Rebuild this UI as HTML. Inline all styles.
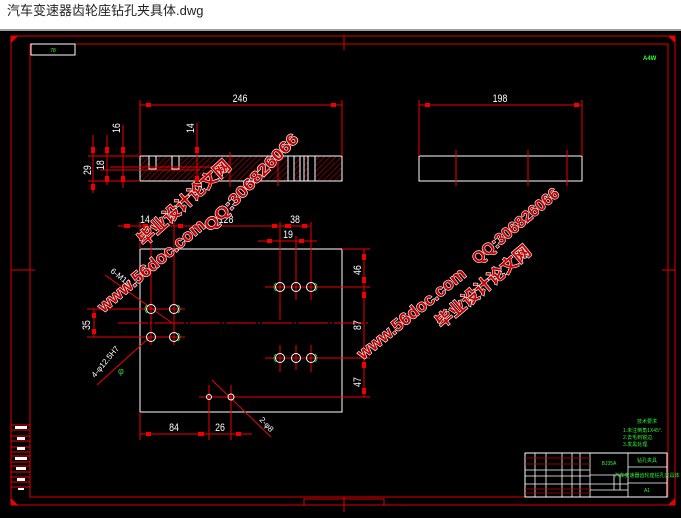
<!DOCTYPE html>
<html><head><meta charset="utf-8"><style>
html,body{margin:0;padding:0;background:#000;}
.t{position:absolute;left:0;top:0;width:681px;height:31px;background:#fff;border-bottom:2px solid #a0a0a0;font-family:"Liberation Sans","Noto Sans CJK SC",sans-serif;font-size:13px;line-height:22px;padding-left:7px;box-sizing:border-box;color:#222}
svg{position:absolute;left:0;top:0}
</style></head><body>
<div class="t">汽车变速器齿轮座钻孔夹具体.dwg</div>
<svg width="681" height="518" viewBox="0 0 681 518" font-family="Liberation Sans, Noto Sans CJK SC, sans-serif">
<rect x="0" y="33" width="681" height="485" fill="#000"/>
<defs><pattern id="h" width="4" height="4" patternUnits="userSpaceOnUse" patternTransform="rotate(45)"><line x1="0" y1="0" x2="0" y2="4" stroke="#b00" stroke-width="1.2"/></pattern></defs>
<g fill="none" stroke="#e00000" stroke-width="1">
<rect x="11" y="36" width="664" height="469"/>
<rect x="30" y="44" width="638" height="453"/>
<line x1="344" y1="36" x2="344" y2="50"/>
<line x1="344" y1="497" x2="344" y2="512"/>
<line x1="11" y1="270" x2="35" y2="270"/><line x1="662" y1="270" x2="675" y2="270"/>
<rect x="304" y="499" width="80" height="6"/>
</g>
<path d="M11 36 L18 36 L11 43Z M675 36 L668 36 L675 43Z M11 505 L18 505 L11 498Z M675 505 L668 505 L675 498Z" fill="#e00"/>
<rect x="31" y="44" width="44" height="11" fill="none" stroke="#fff"/>
<text x="53" y="52" font-size="5" fill="#3f3" text-anchor="middle">78</text>
<text x="643" y="60" font-size="6" fill="#3f3" font-weight="bold">A4W</text>
<g stroke="#e00" fill="none"><line x1="11" y1="425" x2="30" y2="425"/><line x1="11" y1="430" x2="30" y2="430"/><line x1="11" y1="436" x2="30" y2="436"/><line x1="11" y1="441" x2="30" y2="441"/><line x1="11" y1="447" x2="30" y2="447"/><line x1="11" y1="452" x2="30" y2="452"/><line x1="11" y1="456" x2="30" y2="456"/><line x1="11" y1="462" x2="30" y2="462"/><line x1="11" y1="466" x2="30" y2="466"/><line x1="11" y1="472" x2="30" y2="472"/><line x1="11" y1="477" x2="30" y2="477"/><line x1="11" y1="482" x2="30" y2="482"/><line x1="11" y1="487" x2="30" y2="487"/></g>
<g fill="#fff"><rect x="15" y="426" width="12" height="3"/><rect x="17" y="437" width="8" height="3"/><rect x="17" y="447" width="8" height="3"/><rect x="15" y="457" width="12" height="3"/><rect x="16" y="467" width="10" height="3"/><rect x="17" y="478" width="8" height="3"/><rect x="18" y="488" width="6" height="2"/></g>
<rect x="140" y="156" width="202" height="25" fill="url(#h)" stroke="#fff"/>
<g stroke="#fff" fill="#000"><rect x="149" y="156" width="7" height="13"/><rect x="172" y="156" width="7" height="13"/><rect x="288" y="156" width="6" height="25"/><rect x="300" y="156" width="4" height="25"/><rect x="308" y="156" width="7" height="25"/></g>
<rect x="419" y="156" width="163" height="25" fill="none" stroke="#fff"/>
<g stroke="#e00" fill="none">
<line x1="140" y1="100" x2="140" y2="156"/><line x1="342" y1="100" x2="342" y2="156"/><line x1="140" y1="105" x2="342" y2="105"/>
<line x1="419" y1="100" x2="419" y2="156"/><line x1="582" y1="100" x2="582" y2="156"/><line x1="419" y1="105" x2="582" y2="105"/>
<line x1="456" y1="150" x2="456" y2="186"/><line x1="528" y1="150" x2="528" y2="186"/><line x1="567" y1="150" x2="567" y2="186"/>
<line x1="93" y1="135" x2="93" y2="193"/><line x1="107" y1="135" x2="107" y2="185"/><line x1="123" y1="125" x2="123" y2="188"/><line x1="197" y1="123" x2="197" y2="185"/>
<line x1="88" y1="156" x2="140" y2="156"/><line x1="88" y1="181" x2="140" y2="181"/><line x1="100" y1="170" x2="200" y2="170"/><line x1="110" y1="167" x2="230" y2="167"/>
<line x1="230" y1="152" x2="230" y2="187"/><line x1="278" y1="150" x2="278" y2="186"/>
</g>
<g fill="#e00"><rect x="146" y="103" width="5" height="4"/><rect x="331" y="103" width="5" height="4"/><rect x="425" y="103" width="5" height="4"/><rect x="574" y="103" width="5" height="4"/>
<rect x="91" y="147" width="4" height="6"/><rect x="91" y="184" width="4" height="6"/><rect x="105" y="147" width="4" height="6"/><rect x="105" y="176" width="4" height="6"/><rect x="121" y="147" width="4" height="6"/><rect x="121" y="176" width="4" height="6"/><rect x="195" y="147" width="4" height="6"/><rect x="195" y="176" width="4" height="6"/></g>
<g fill="#fff" font-size="11"><text transform="translate(240,102) scale(0.8,1)" text-anchor="middle">246</text><text transform="translate(500,102) scale(0.8,1)" text-anchor="middle">198</text>
<text transform="translate(120,133) rotate(-90) scale(0.8,1)">16</text><text transform="translate(194,133) rotate(-90) scale(0.8,1)">14</text>
<text transform="translate(91,175) rotate(-90) scale(0.8,1)">29</text><text transform="translate(104,170) rotate(-90) scale(0.8,1)">18</text></g>
<rect x="140" y="249" width="202" height="163" fill="none" stroke="#fff"/>
<g stroke="#e00" fill="none">
<line x1="118" y1="226" x2="310" y2="226"/><line x1="258" y1="241" x2="317" y2="241"/>
<line x1="140" y1="222" x2="140" y2="249"/><line x1="151" y1="222" x2="151" y2="345"/><line x1="174" y1="222" x2="174" y2="345"/>
<line x1="280" y1="222" x2="280" y2="320"/><line x1="296" y1="236" x2="296" y2="300"/><line x1="311" y1="222" x2="311" y2="300"/>
<line x1="280" y1="345" x2="280" y2="372"/><line x1="296" y1="345" x2="296" y2="370"/><line x1="311" y1="345" x2="311" y2="372"/>
<line x1="265" y1="287" x2="370" y2="287"/><line x1="265" y1="358" x2="370" y2="358"/><line x1="118" y1="323" x2="370" y2="323" stroke-dasharray="30 2 2 2"/>
<line x1="87" y1="309" x2="185" y2="309"/><line x1="87" y1="337" x2="185" y2="337"/><line x1="94" y1="309" x2="94" y2="337"/>
<line x1="342" y1="249" x2="370" y2="249"/><line x1="199" y1="397" x2="370" y2="397"/><line x1="364" y1="249" x2="364" y2="397"/>
<line x1="140" y1="412" x2="140" y2="440"/><line x1="209" y1="385" x2="209" y2="440"/><line x1="231" y1="385" x2="231" y2="440"/><line x1="140" y1="434" x2="252" y2="434"/>
<line x1="105" y1="275" x2="172" y2="323"/><line x1="97" y1="385" x2="150" y2="337"/><line x1="212" y1="380" x2="271" y2="437"/>
</g>
<g fill="#e00"><rect x="124" y="224" width="6" height="4"/><rect x="143" y="224" width="5" height="4"/><rect x="178" y="224" width="5" height="4"/><rect x="272" y="224" width="5" height="4"/><rect x="285" y="224" width="6" height="4"/><rect x="302" y="224" width="5" height="4"/><rect x="267" y="239" width="5" height="4"/><rect x="299" y="239" width="5" height="4"/>
<rect x="362" y="254" width="4" height="6"/><rect x="362" y="277" width="4" height="6"/><rect x="362" y="292" width="4" height="6"/><rect x="362" y="350" width="4" height="6"/><rect x="362" y="362" width="4" height="6"/><rect x="362" y="388" width="4" height="6"/>
<rect x="92" y="313" width="4" height="5"/><rect x="92" y="329" width="4" height="5"/><rect x="146" y="432" width="5" height="4"/><rect x="198" y="432" width="6" height="4"/><rect x="236" y="432" width="5" height="4"/></g>
<g fill="none" stroke="#fff" stroke-width="1">
<circle cx="151" cy="309" r="4.5"/><circle cx="174" cy="309" r="4.5"/><circle cx="151" cy="337" r="4.5"/><circle cx="174" cy="337" r="4.5"/>
<circle cx="280" cy="287" r="4.5"/><circle cx="296" cy="287" r="4.5"/><circle cx="311" cy="287" r="4.5"/>
<circle cx="280" cy="358" r="4.5"/><circle cx="296" cy="358" r="4.5"/><circle cx="311" cy="358" r="4.5"/>
<circle cx="209" cy="397" r="2.5"/><circle cx="231" cy="397" r="3"/></g>
<g fill="none" stroke="#3c3" stroke-width="0.8"><path d="M147 305 a5 5 0 0 0 0 8"/><path d="M178 305 a5 5 0 0 1 0 8"/><path d="M276 283 a5 5 0 0 0 0 8"/><path d="M315 283 a5 5 0 0 1 0 8"/><path d="M276 354 a5 5 0 0 0 0 8"/><path d="M315 354 a5 5 0 0 1 0 8"/><path d="M178 333 a5 5 0 0 1 0 8"/></g>
<g fill="#fff" font-size="11"><text transform="translate(145,223) scale(0.8,1)" text-anchor="middle">14</text><text transform="translate(226,223) scale(0.8,1)" text-anchor="middle">128</text><text transform="translate(295,223) scale(0.8,1)" text-anchor="middle">38</text><text transform="translate(288,238) scale(0.8,1)" text-anchor="middle">19</text>
<text transform="translate(90,330) rotate(-90) scale(0.8,1)">35</text><text transform="translate(361,275) rotate(-90) scale(0.8,1)">46</text><text transform="translate(361,330) rotate(-90) scale(0.8,1)">87</text><text transform="translate(361,387) rotate(-90) scale(0.8,1)">47</text>
<text transform="translate(174,431) scale(0.8,1)" text-anchor="middle">84</text><text transform="translate(220,431) scale(0.8,1)" text-anchor="middle">26</text>
<text transform="translate(110,272) rotate(38)" font-size="8">6-M12</text><text transform="translate(95,378) rotate(-50)" font-size="8">4-φ12.5H7</text><text transform="translate(259,420) rotate(48)" font-size="8">2-φ8</text></g>
<text x="118" y="374" font-size="9" fill="#3c3">φ</text>
<g fill="#3e3" font-size="5"><text x="637" y="423">技术要求</text><text x="623" y="432">1.未注倒角1X45°.</text><text x="623" y="439">2.去毛刺锐边.</text><text x="623" y="446">3.发黑处理.</text></g>
<rect x="525" y="453" width="142" height="44" fill="none" stroke="#fff"/>
<g stroke="#fff" fill="none" stroke-width="0.8"><line x1="590" y1="453" x2="590" y2="497"/><line x1="628" y1="453" x2="628" y2="497"/><line x1="628" y1="467" x2="667" y2="467"/><line x1="628" y1="483" x2="667" y2="483"/><line x1="590" y1="475" x2="628" y2="475"/><line x1="590" y1="484" x2="628" y2="484"/><line x1="590" y1="490" x2="628" y2="490"/>
<line x1="535" y1="453" x2="535" y2="497"/><line x1="546" y1="453" x2="546" y2="497"/><line x1="562" y1="453" x2="562" y2="497"/><line x1="572" y1="453" x2="572" y2="497"/><line x1="580" y1="453" x2="580" y2="497"/><line x1="525" y1="470" x2="590" y2="470"/><line x1="525" y1="476" x2="590" y2="476"/><line x1="525" y1="484" x2="590" y2="484"/><line x1="614" y1="475" x2="614" y2="490"/><line x1="620" y1="475" x2="620" y2="490"/></g>
<g stroke="#b00" stroke-width="0.8"><line x1="525" y1="458" x2="590" y2="458"/><line x1="525" y1="464" x2="590" y2="464"/><line x1="525" y1="489" x2="590" y2="489"/><line x1="525" y1="493" x2="590" y2="493"/></g>
<g fill="#3e3" font-size="5" text-anchor="middle"><text x="609" y="465">BJ35A</text><text x="647" y="462">钻孔夹具</text><text x="647" y="477">汽车变速器齿轮座钻孔夹具体</text><text x="647" y="492">A1</text></g>
<g font-weight="bold" fill="#c80000" stroke="#fff" stroke-width="1.2" paint-order="stroke" font-family="Liberation Sans, Noto Sans CJK SC, sans-serif">
<text transform="translate(255,186) rotate(-46)" text-anchor="middle" font-size="16" textLength="128" lengthAdjust="spacingAndGlyphs">QQ:306826066</text>
<text transform="translate(188,207) rotate(-42)" text-anchor="middle" font-size="17" textLength="118" lengthAdjust="spacingAndGlyphs">毕业设计论文网</text>
<text transform="translate(155,270) rotate(-40)" text-anchor="middle" font-size="17" textLength="134" lengthAdjust="spacingAndGlyphs">www.56doc.com</text>
<text transform="translate(519,230) rotate(-40)" text-anchor="middle" font-size="16" textLength="108" lengthAdjust="spacingAndGlyphs">QQ:306826066</text>
<text transform="translate(487,291) rotate(-40)" text-anchor="middle" font-size="17" textLength="118" lengthAdjust="spacingAndGlyphs">毕业设计论文网</text>
<text transform="translate(415,318) rotate(-39)" text-anchor="middle" font-size="17" textLength="134" lengthAdjust="spacingAndGlyphs">www.56doc.com</text>
</g>
</svg>
</body></html>
